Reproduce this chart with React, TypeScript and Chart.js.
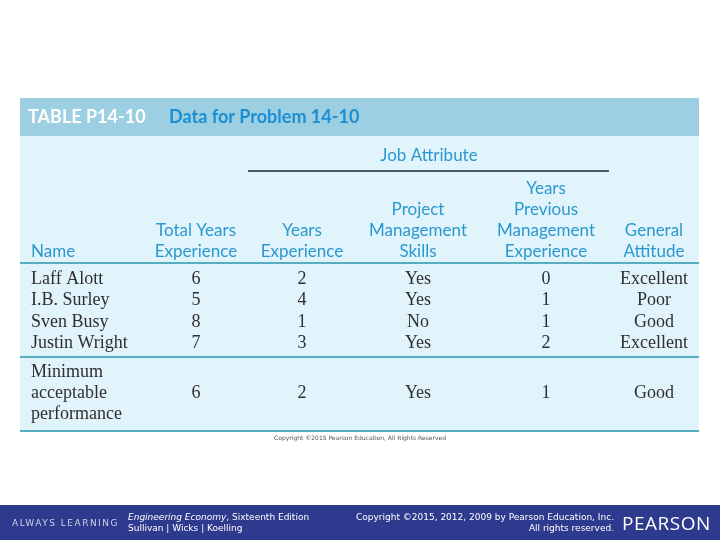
import React, { useEffect, useRef } from "react";
import { Chart, registerables } from "chart.js";
Chart.register(...registerables);

// ---- data ----
const tableId = "TABLE P14-10";
const tableTitle = "Data for Problem 14-10";
const groupTitle = "Job Attribute";
const headers = [
  ["Name"],
  ["Total Years", "Experience"],
  ["Years", "Experience"],
  ["Project", "Management", "Skills"],
  ["Years", "Previous", "Management", "Experience"],
  ["General", "Attitude"],
];
const names = ["Laff Alott", "I.B. Surley", "Sven Busy", "Justin Wright"];
const totalYears = [6, 5, 8, 7];
const yearsExperience = [2, 4, 1, 3];
const projectSkills = ["Yes", "Yes", "No", "Yes"];
const previousMgmt = [0, 1, 1, 2];
const attitude = ["Excellent", "Poor", "Good", "Excellent"];
const minimumName = ["Minimum", "acceptable", "performance"];
const minimumValues = [6, 2, "Yes", 1, "Good"];
const sourceNote = "Copyright ©2015 Pearson Education, All Rights Reserved";

// ---- layout (table units) ----
const COL_X = [11, 176, 282, 398, 526, 634];
const COL_ALIGN: CanvasTextAlign[] = ["left", "center", "center", "center", "center", "center"];
const ROW_Y = [181, 202, 224, 245];
const MIN_ROW_Y = [274, 295, 316];
const HEADER_Y = [91, 112, 133, 154];

const BLUE = "#2a98d0";
const TEAL = "#56aec0";
const TEXT = "#2f2f2f";

const columns: (string | number)[][] = [names, totalYears, yearsExperience, projectSkills, previousMgmt, attitude];

const tablePlugin = {
  id: "tableDraw",
  beforeDraw(chart: any) {
    const { ctx, chartArea: a, scales } = chart;
    const X = (v: number) => scales.x.getPixelForValue(v);
    const Y = (v: number) => scales.y.getPixelForValue(v);
    ctx.save();
    ctx.fillStyle = "#ffffff";
    ctx.fillRect(0, 0, chart.width, chart.height);
    // title bar and body
    ctx.fillStyle = "#9dcfe2";
    ctx.fillRect(a.left, Y(0), a.right - a.left, Y(38) - Y(0));
    ctx.fillStyle = "#e2f4fb";
    ctx.fillRect(a.left, Y(38), a.right - a.left, Y(334) - Y(38));
    // title
    ctx.textBaseline = "middle";
    ctx.textAlign = "left";
    ctx.font = "bold 18px Lato";
    ctx.fillStyle = "#ffffff";
    ctx.fillText(tableId, X(8), Y(19));
    ctx.fillStyle = "#1b8fd2";
    ctx.fillText(tableTitle, X(149), Y(19));
    // header
    ctx.font = "17px Lato";
    ctx.fillStyle = BLUE;
    ctx.textAlign = "center";
    ctx.fillText(groupTitle, X(409), Y(58));
    headers.forEach((lines, c) => {
      ctx.textAlign = COL_ALIGN[c];
      const start = HEADER_Y.length - lines.length;
      lines.forEach((t, i) => ctx.fillText(t, X(COL_X[c]), Y(HEADER_Y[start + i])));
    });
    // lines
    ctx.strokeStyle = "#1c2630";
    ctx.lineWidth = 1.3;
    ctx.beginPath();
    ctx.moveTo(X(228), Y(73));
    ctx.lineTo(X(589), Y(73));
    ctx.stroke();
    ctx.strokeStyle = TEAL;
    ctx.lineWidth = 2;
    [165, 259, 333].forEach((v) => {
      ctx.beginPath();
      ctx.moveTo(a.left, Y(v));
      ctx.lineTo(a.right, Y(v));
      ctx.stroke();
    });
    // note under table
    ctx.font = "6px 'DejaVu Sans'";
    ctx.fillStyle = "#555";
    ctx.textAlign = "center";
    ctx.fillText(sourceNote, X(340), Y(340));
    // footer
    ctx.fillStyle = "#2e3a8e";
    ctx.fillRect(0, 505, chart.width, chart.height - 505);
    ctx.fillStyle = "#cfd4e6";
    ctx.textAlign = "left";
    ctx.font = "9px 'DejaVu Sans'";
    (ctx as any).letterSpacing = "1.5px";
    ctx.fillText("ALWAYS LEARNING", 12, 524);
    (ctx as any).letterSpacing = "0px";
    ctx.fillStyle = "#ffffff";
    ctx.font = "italic 9px 'DejaVu Sans'";
    const ee = "Engineering Economy";
    ctx.fillText(ee, 128, 518);
    const w = ctx.measureText(ee).width;
    ctx.font = "9px 'DejaVu Sans'";
    ctx.fillText(", Sixteenth Edition", 128 + w, 518);
    ctx.fillText("Sullivan | Wicks | Koelling", 128, 529);
    ctx.textAlign = "right";
    ctx.fillText("Copyright ©2015, 2012, 2009 by Pearson Education, Inc.", 614, 518);
    ctx.fillText("All rights reserved.", 614, 529);
    ctx.textAlign = "left";
    ctx.font = "19px 'Open Sans'";
    (ctx as any).letterSpacing = "0.5px";
    ctx.fillText("PEARSON", 622, 525);
    (ctx as any).letterSpacing = "0px";
    ctx.restore();
  },
  afterDatasetsDraw(chart: any) {
    const { ctx } = chart;
    ctx.save();
    ctx.font = "18px 'Liberation Serif'";
    ctx.fillStyle = TEXT;
    ctx.textBaseline = "middle";
    chart.data.datasets.forEach((ds: any, di: number) => {
      const meta = chart.getDatasetMeta(di);
      ctx.textAlign = COL_ALIGN[di];
      meta.data.forEach((el: any, i: number) => {
        ctx.fillText(String(ds.texts[i]), el.x, el.y);
      });
    });
    ctx.restore();
  },
};

export default function App() {
  const ref = useRef<HTMLCanvasElement>(null);
  useEffect(() => {
    document.body.style.margin = "0";
    const datasets = columns.map((col, c) => {
      const pts = col.map((_, r) => ({ x: COL_X[c], y: ROW_Y[r] }));
      let texts: (string | number)[] = [...col];
      if (c === 0) {
        minimumName.forEach((t, i) => pts.push({ x: COL_X[c], y: MIN_ROW_Y[i] }));
        texts = texts.concat(minimumName);
      } else {
        pts.push({ x: COL_X[c], y: MIN_ROW_Y[1] });
        texts = texts.concat([minimumValues[c - 1]]);
      }
      return { label: headers[c].join(" "), data: pts, texts, pointRadius: 0, showLine: false } as any;
    });
    const chart = new Chart(ref.current!, {
      type: "scatter",
      data: { datasets },
      options: {
        animation: false,
        responsive: false,
        layout: { padding: { left: 20, right: 21, top: 98, bottom: 108 } },
        scales: {
          x: { type: "linear", min: 0, max: 679, display: false },
          y: { type: "linear", min: 0, max: 334, reverse: true, display: false },
        },
        plugins: { legend: { display: false }, tooltip: { enabled: false } },
      },
      plugins: [tablePlugin],
    });
    return () => chart.destroy();
  }, []);
  return (
    <div style={{ width: 720, height: 540 }}>
      <canvas ref={ref} width={720} height={540} />
    </div>
  );
}
